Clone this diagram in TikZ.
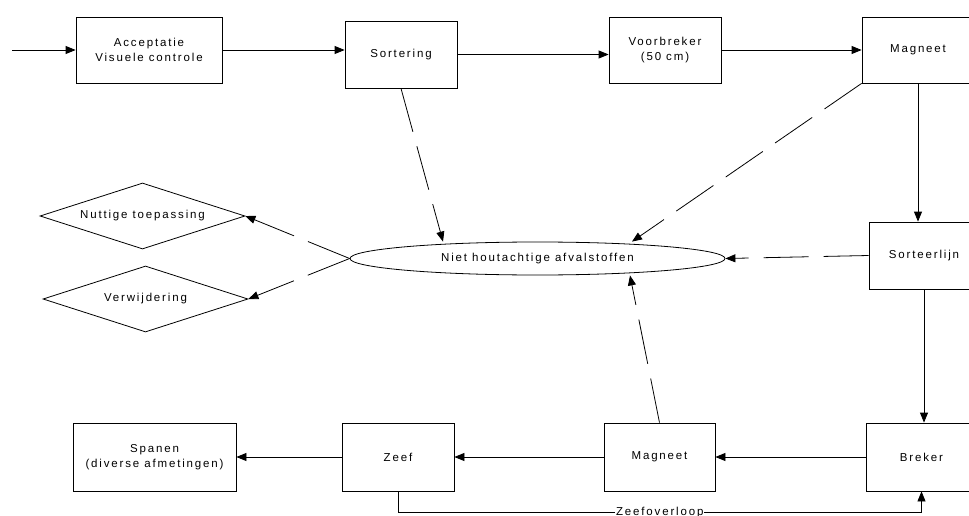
\documentclass[tikz,border=0pt]{standalone}
\usepackage{fontspec}
\newfontfamily\lsfont{Liberation Sans}[LetterSpace=16]
\usetikzlibrary{shapes.geometric,arrows.meta,calc}
\tikzset{
  box/.style={draw,line width=0.8pt,rectangle,inner sep=0pt,align=center},
  dia/.style={draw,line width=0.8pt,diamond,aspect=3,inner sep=0pt,minimum width=205pt,minimum height=66pt},
  ell/.style={draw,line width=0.8pt,ellipse,inner sep=0pt,minimum width=375pt,minimum height=33pt},
  flow/.style={line width=0.8pt,-{Triangle[length=10pt,width=8pt]}},
  dflow/.style={flow,dash pattern=on 45pt off 15pt},
  txt/.style={font=\lsfont\fontsize{11.5}{15}\selectfont}
}
\begin{document}
\begin{tikzpicture}[x=1pt,y=-1pt,every node/.style={txt}]
\useasboundingbox (0,0) rectangle (969,516);
\fill[white] (0,0) rectangle (969,516);
% top row
\coordinate (in) at (12,50);
\node[box,minimum width=146pt,minimum height=66pt] (acc) at (149,50) {Acceptatie\\Visuele controle};
\node[box,minimum width=112pt,minimum height=67pt] (sort) at (401,54.5) {Sortering};
\node[box,minimum width=112pt,minimum height=66pt] (voor) at (665,50) {Voorbreker\\(50 cm)};
\node[box,minimum width=112pt,minimum height=66pt] (mag1) at (918,50) {Magneet};
% middle
\node[ell] (afv) at (537.5,258.5) {Niet houtachtige afvalstoffen};
\node[box,minimum width=110pt,minimum height=67pt] (sortl) at (924,255.5) {Sorteerlijn};
\node[dia] (nut) at (142.5,216) {Nuttige toepassing};
\node[dia] (ver) at (145.5,299) {Verwijdering};
% bottom row
\node[box,minimum width=111pt,minimum height=68pt] (brek) at (921.5,457) {Breker};
\node[box,minimum width=111pt,minimum height=68pt] (mag2) at (659.5,457) {Magneet};
\node[box,minimum width=112pt,minimum height=68pt] (zeef) at (398,457) {Zeef};
\node[box,minimum width=163pt,minimum height=68pt] (span) at (154.5,457) {Spanen\\(diverse afmetingen)};
% main flow
\draw[flow] (in) -- (acc.west);
\draw[flow] (acc.east) -- (acc.east -| sort.west);
\draw[flow] (sort.east) -- (sort.east -| voor.west);
\draw[flow] (voor.east) -- (mag1.west);
\draw[flow] (mag1.south) -- (mag1.south |- sortl.north);
\draw[flow] (sortl.south) -- (sortl.south |- brek.north);
\draw[flow] (brek.west) -- (mag2.east);
\draw[flow] (mag2.west) -- (zeef.east);
\draw[flow] (zeef.west) -- (span.east);
\draw[flow] (zeef.south) -- ++(0,21) coordinate (zo)
  -- node[fill=white,inner sep=1pt] (zlab) {Zeefoverloop} (zo -| brek.south) -- (brek.south);
% dashed flows
\draw[dflow] (sort.south) -- ($(afv.north)+(-94.5,0)$);
\draw[dflow] (mag1.south west) -- ($(afv.north)+(94.5,0)$);
\draw[dflow] (sortl.west) -- (afv.east);
\draw[dflow] (mag2.north) -- ($(afv.south)+(92.5,0)$);
\draw[dflow] (afv.west) -- (nut.east);
\draw[dflow] (afv.west) -- (ver.east);
\end{tikzpicture}
\end{document}
